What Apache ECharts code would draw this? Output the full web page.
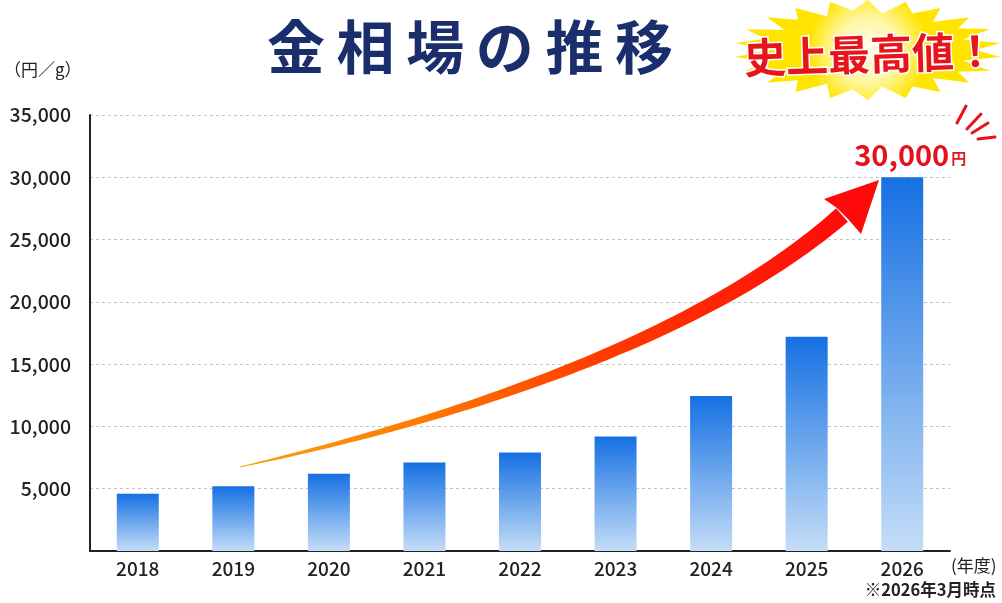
<!DOCTYPE html>
<html>
<head>
<meta charset="utf-8">
<script src="https://cdn.jsdelivr.net/npm/echarts@6/dist/echarts.min.js"></script>
<style>
  html, body { margin: 0; padding: 0; background: #fff; }
  #chart { width: 1002px; height: 603px; }
</style>
</head>
<body>
<div id="chart"></div>
<script>
// 年度
var years = ['2018', '2019', '2020', '2021', '2022', '2023', '2024', '2025', '2026'];
// 金価格 (円/g)
var prices = [4600, 5200, 6200, 7100, 7900, 9200, 12450, 17200, 30000];
// 縦軸の目盛り
var yMax = 35000;
var yStep = 5000;

var FONT = '"Noto Sans CJK JP", "Noto Sans", sans-serif';

var chart = echarts.init(document.getElementById('chart'));

// 棒の色 (上が濃い青、下が薄い青)
var barColor = new echarts.graphic.LinearGradient(0, 0, 0, 1, [
    {offset: 0, color: '#1570e2'},
    {offset: 1, color: '#c4ddf7'}
]);

// 最後の年だけラベルを付ける
var barData = prices.map(function (v, i) {
    if (i === prices.length - 1) {
        return {
            value: v,
            label: {
                show: true,
                position: 'top',
                distance: 8,
                offset: [8, 0],
                formatter: function (p) {
                    return '{a|' + p.value.toLocaleString('en-US') + '}{b|円}';
                },
                rich: {
                    a: {fontFamily: FONT, fontSize: 29, fontWeight: 'bold', color: '#e3121b'},
                    b: {fontFamily: FONT, fontSize: 15, fontWeight: 'bold', color: '#e3121b', padding: [8, 0, 0, 2]}
                }
            }
        };
    }
    return v;
});

// 矢印 (装飾) : 三次ベジェ曲線に沿って太くなる帯
function arrowShaft() {
    var p = [[240, 467], [450, 420], [700, 340], [842, 215]];
    var n = 60, left = [], right = [];
    for (var i = 0; i <= n; i++) {
        var t = i / n, u = 1 - t;
        var x = u * u * u * p[0][0] + 3 * u * u * t * p[1][0] + 3 * u * t * t * p[2][0] + t * t * t * p[3][0];
        var y = u * u * u * p[0][1] + 3 * u * u * t * p[1][1] + 3 * u * t * t * p[2][1] + t * t * t * p[3][1];
        var dx = 3 * u * u * (p[1][0] - p[0][0]) + 6 * u * t * (p[2][0] - p[1][0]) + 3 * t * t * (p[3][0] - p[2][0]);
        var dy = 3 * u * u * (p[1][1] - p[0][1]) + 6 * u * t * (p[2][1] - p[1][1]) + 3 * t * t * (p[3][1] - p[2][1]);
        var len = Math.sqrt(dx * dx + dy * dy);
        var w = 0.4 + 8.5 * Math.pow(t, 0.8);
        var nx = -dy / len * w, ny = dx / len * w;
        left.push([x + nx, y + ny]);
        right.unshift([x - nx, y - ny]);
    }
    return left.concat(right);
}

// 星形 (史上最高値！の背景)
function burst(cx, cy, rx, ry, spikes) {
    var pts = [];
    for (var i = 0; i < spikes * 2; i++) {
        var a = Math.PI * i / spikes - Math.PI / 2;
        var k = i % 2 === 0 ? 1 : (i % 4 === 1 ? 0.74 : 0.8);
        pts.push([cx + Math.cos(a) * rx * k, cy + Math.sin(a) * ry * k]);
    }
    return pts;
}

var option = {
    backgroundColor: '#ffffff',
    animation: false,
    title: {
        text: '金\u2009相\u2009場\u2009の\u2009推\u2009移',
        left: 465,
        top: 13,
        textAlign: 'center',
        textStyle: {fontFamily: FONT, fontSize: 58, fontWeight: 'bold', color: '#1b2e6c'}
    },
    grid: {left: 90, right: 52, top: 115, bottom: 52, containLabel: false, outerBoundsMode: 'none'},
    xAxis: {
        type: 'category',
        data: years,
        name: '(年度)',
        nameLocation: 'end',
        nameGap: 1,
        nameTextStyle: {fontFamily: FONT, fontSize: 17, color: '#222', verticalAlign: 'top', align: 'left', padding: [6, 0, 0, 0]},
        axisLine: {lineStyle: {color: '#222', width: 2}},
        axisTick: {show: false},
        axisLabel: {fontFamily: FONT, fontSize: 19, fontWeight: 500, color: '#222', margin: 8}
    },
    yAxis: {
        type: 'value',
        min: 0,
        max: yMax,
        interval: yStep,
        axisLine: {show: true, lineStyle: {color: '#222', width: 2}},
        axisTick: {show: false},
        axisLabel: {
            fontFamily: FONT, fontSize: 19.5, fontWeight: 500, color: '#222', margin: 19,
            formatter: function (v) { return v === 0 ? '' : v.toLocaleString('en-US'); }
        },
        splitLine: {lineStyle: {color: '#c4c4c4', type: [3, 3], width: 1}}
    },
    series: [
        {
            name: '金価格',
            type: 'bar',
            data: barData,
            barWidth: 42,
            itemStyle: {color: barColor},
            z: 2
        }
    ],
    graphic: [
        // 矢印
        {
            type: 'polygon',
            z: 10,
            shape: {points: arrowShaft()},
            style: {
                fill: new echarts.graphic.LinearGradient(0, 0, 1, 0, [
                    {offset: 0, color: '#f2a51c'},
                    {offset: 0.3, color: '#ff7a00'},
                    {offset: 0.6, color: '#ff3a00'},
                    {offset: 1, color: '#ff0a0a'}
                ])
            }
        },
        {
            type: 'polygon',
            z: 10,
            shape: {points: [[879, 180], [824, 199], [837, 208], [848, 219], [861, 234]]},
            style: {fill: '#ff0a0a'}
        },
        // 星形
        {
            type: 'polygon',
            z: 5,
            shape: {points: burst(868, 50, 134, 50, 22)},
            style: {
                fill: new echarts.graphic.RadialGradient(0.5, 0.5, 0.6, [
                    {offset: 0, color: '#fffdf0'},
                    {offset: 0.55, color: '#fff6a0'},
                    {offset: 1, color: '#ffe400'}
                ])
            }
        },
        {
            type: 'text',
            z: 6,
            x: 870,
            y: 54,
            rotation: 0.03,
            style: {
                text: '史上最高値！',
                fontFamily: FONT,
                fontSize: 42,
                fontWeight: 'bold',
                fill: '#e8141c',
                stroke: '#ffffff',
                lineWidth: 3,
                textAlign: 'center',
                textVerticalAlign: 'middle',
                shadowColor: '#7a0000',
                shadowOffsetX: 2,
                shadowOffsetY: 3
            }
        },
        // 強調の線
        {type: 'line', shape: {x1: 966, y1: 106, x2: 957, y2: 123}, style: {stroke: '#e8141c', lineWidth: 3, lineCap: 'round'}},
        {type: 'line', shape: {x1: 981, y1: 114, x2: 967, y2: 129}, style: {stroke: '#e8141c', lineWidth: 3, lineCap: 'round'}},
        {type: 'line', shape: {x1: 988, y1: 123, x2: 972, y2: 133}, style: {stroke: '#e8141c', lineWidth: 3, lineCap: 'round'}},
        {type: 'line', shape: {x1: 995, y1: 137, x2: 978, y2: 139}, style: {stroke: '#e8141c', lineWidth: 3, lineCap: 'round'}},
        // 単位
        {
            type: 'text',
            x: 4,
            y: 61,
            style: {text: '（円／g）', fontFamily: FONT, fontSize: 17, fill: '#222'}
        },
        // 注記
        {
            type: 'text',
            x: 996,
            y: 581,
            style: {text: '※2026年3月時点', fontFamily: FONT, fontSize: 16.5, fontWeight: 'bold', fill: '#222', textAlign: 'right'}
        }
    ]
};

chart.setOption(option);
</script>
</body>
</html>
